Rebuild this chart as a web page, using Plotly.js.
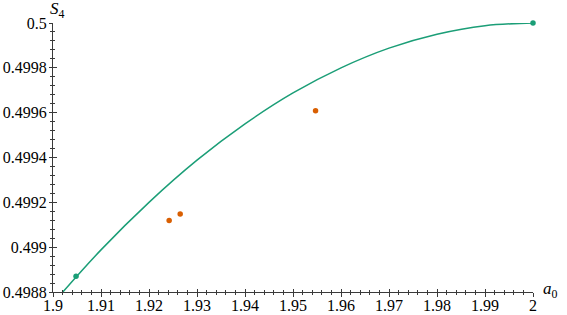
<!DOCTYPE html>
<html>
<head>
<meta charset="utf-8">
<script src="https://cdn.plot.ly/plotly-3.0.1.min.js"></script>
<style>html,body{margin:0;padding:0;background:#fff;}#chart{width:567px;height:315px;}</style>
</head>
<body>
<div id="chart"></div>
<script>
// Curve S4(a0)
const curveA0 = [1.90, 1.91, 1.92, 1.93, 1.94, 1.95, 1.96, 1.97, 1.98, 1.99, 2.00];
const curveS4 = [0.49875, 0.498988, 0.4992, 0.499388, 0.49955, 0.499688, 0.4998, 0.499888, 0.49995, 0.499988, 0.5];
// Green points (on curve)
const greenA0 = [1.9048, 2.0];
const greenS4 = [0.49887, 0.5];
// Orange points
const orangeA0 = [1.9242, 1.9265, 1.9547];
const orangeS4 = [0.499119, 0.499148, 0.499608];
// Ticks
const xTickVals = [1.9, 1.91, 1.92, 1.93, 1.94, 1.95, 1.96, 1.97, 1.98, 1.99, 2.0];
const xTickText = ['1.9', '1.91', '1.92', '1.93', '1.94', '1.95', '1.96', '1.97', '1.98', '1.99', '2'];
const yTickVals = [0.4988, 0.499, 0.4992, 0.4994, 0.4996, 0.4998, 0.5];
const yTickText = ['0.4988', '0.499', '0.4992', '0.4994', '0.4996', '0.4998', '0.5'];

const green = '#1b9e77';
const orange = '#d95f02';
const axisColor = '#3a3a3a';
const tickFont = {family: 'Liberation Serif, DejaVu Serif, serif', size: 16, color: '#000'};
const titleFont = {family: 'Liberation Serif, DejaVu Serif, serif', size: 17, color: '#000'};

const traces = [
  {x: curveA0, y: curveS4, mode: 'lines', line: {color: green, width: 1.5, shape: 'spline'}, cliponaxis: true, hoverinfo: 'skip'},
  {x: greenA0, y: greenS4, mode: 'markers', marker: {color: green, size: 5.5}, cliponaxis: false},
  {x: orangeA0, y: orangeS4, mode: 'markers', marker: {color: orange, size: 5.5}, cliponaxis: false},
  {x: [1.95], y: [0.4994], xaxis: 'x2', yaxis: 'y2', mode: 'markers', marker: {opacity: 0}}
];

const xRange = [1.9, 2.0];
const yRange = [0.4988, 0.5];

function minorOpts(dtick, tick0, side) {
  return {dtick: dtick, tick0: tick0, ticklen: 2, tickcolor: axisColor, tickwidth: 1, showgrid: false, ticks: side};
}

const layout = {
  width: 567, height: 315,
  margin: {l: 53, r: 34, t: 23, b: 23},
  paper_bgcolor: '#fff', plot_bgcolor: '#fff',
  showlegend: false,
  font: {family: 'Liberation Serif, DejaVu Serif, serif'},
  xaxis: {
    range: xRange, showgrid: false, zeroline: false,
    tickmode: 'array', tickvals: xTickVals, ticktext: xTickText,
    ticks: 'inside', ticklen: 3.5, tickcolor: axisColor, tickwidth: 1,
    minor: minorOpts(0.002, 1.9, 'inside'),
    showline: true, linecolor: axisColor, linewidth: 1,
    tickfont: tickFont, ticklabelstandoff: -1
  },
  yaxis: {
    range: yRange, showgrid: false, zeroline: false,
    tickmode: 'array', tickvals: yTickVals, ticktext: yTickText,
    ticks: 'inside', ticklen: 3.5, tickcolor: axisColor, tickwidth: 1,
    minor: minorOpts(0.00004, 0.4988, 'inside'),
    showline: true, linecolor: axisColor, linewidth: 1,
    tickfont: tickFont, ticklabelstandoff: 2
  },
  xaxis2: {
    range: xRange, overlaying: 'x', side: 'bottom', anchor: 'y2',
    showgrid: false, zeroline: false, showticklabels: false, showline: false,
    tickmode: 'array', tickvals: xTickVals,
    ticks: 'outside', ticklen: 3.5, tickcolor: axisColor, tickwidth: 1,
    minor: minorOpts(0.002, 1.9, 'outside')
  },
  yaxis2: {
    range: yRange, overlaying: 'y', side: 'left', anchor: 'x2',
    showgrid: false, zeroline: false, showticklabels: false, showline: false,
    tickmode: 'array', tickvals: yTickVals,
    ticks: 'outside', ticklen: 3.5, tickcolor: axisColor, tickwidth: 1,
    minor: minorOpts(0.00004, 0.4988, 'outside')
  },
  annotations: [
    {text: '<i>S</i><sub>4</sub>', xref: 'paper', yref: 'paper', x: 0, y: 1, xanchor: 'center', yanchor: 'bottom', xshift: 4, yshift: 0, showarrow: false, font: titleFont},
    {text: '<i>a</i><sub>0</sub>', xref: 'paper', yref: 'paper', x: 1, y: 0, xanchor: 'left', yanchor: 'middle', xshift: 8, yshift: 2, showarrow: false, font: titleFont}
  ]
};

Plotly.newPlot('chart', traces, layout, {displayModeBar: false, staticPlot: true});
</script>
</body>
</html>
